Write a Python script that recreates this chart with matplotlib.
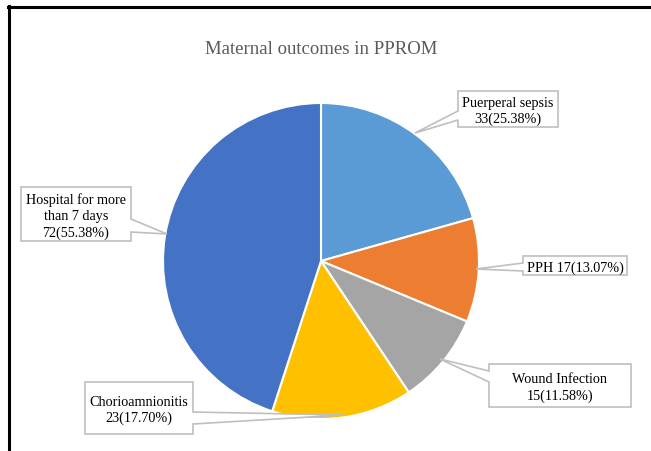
import matplotlib
matplotlib.use("Agg")
import matplotlib.pyplot as plt
from matplotlib.patches import Polygon
from matplotlib.lines import Line2D

# ---- data ----
categories = ["Puerperal sepsis", "PPH", "Wound Infection", "Chorioamnionitis",
              "Hospital for more\nthan 7 days"]
values = [33, 17, 15, 23, 72]
pct_labels = ["25.38%", "13.07%", "11.58%", "17.70%", "55.38%"]
separators = ["\n", " ", "\n", "\n", "\n"]
colors = ["#5B9BD5", "#ED7D31", "#A5A5A5", "#FFC000", "#4472C4"]
title = "Maternal outcomes in PPROM"

W, H = 651, 452
fig = plt.figure(figsize=(W / 100, H / 100), dpi=100)
ax = fig.add_axes([0, 0, 1, 1])

def Y(y):
    return H - y

cx, cy, r = 321, 262, 158
ax.pie(values, colors=colors, startangle=90, counterclock=False,
       center=(cx, Y(cy)), radius=r,
       wedgeprops=dict(edgecolor="white", linewidth=1.5))
ax.set_xlim(0, W)
ax.set_ylim(0, H)
ax.set_aspect("equal", adjustable="datalim")
ax.axis("off")

ax.text(321, Y(49), title, ha="center", va="center", fontsize=13.5,
        color="#595959", family="Liberation Serif")

# callout layout: box (x0, y0, x1, y1), side, pointer base (b1, b2), tip
layout = [
    ((458, 92, 558, 128), "left", (112, 121), (415, 134)),
    ((523, 257, 627, 276), "left", (264, 272), (476, 270)),
    ((489, 365, 631, 408), "left", (372, 383), (440, 360)),
    ((85, 383, 193, 435), "right", (413, 425), (343, 416)),
    ((21, 188, 131, 242), "right", (220, 233), (167, 235)),
]

for i, ((x0, y0, x1, y1), side, (b1, b2), (tx, ty)) in enumerate(layout):
    if side == "left":
        pts = [(x0, y0), (x1, y0), (x1, y1), (x0, y1), (x0, b2), (tx, ty), (x0, b1)]
    else:
        pts = [(x0, y0), (x1, y0), (x1, b1), (tx, ty), (x1, b2), (x1, y1), (x0, y1)]
    pts = [(px, Y(py)) for px, py in pts]
    ax.add_patch(Polygon(pts, closed=True, facecolor="white", edgecolor="#BFBFBF",
                         linewidth=1.2, zorder=5))
    txt = f"{categories[i]}{separators[i]}{values[i]}({pct_labels[i]})"
    ax.text((x0 + x1) / 2, Y((y0 + y1) / 2 + 1.5), txt, ha="center", va="center",
            fontsize=10.2, color="black", family="Liberation Serif",
            linespacing=1.3, zorder=6)

# black frame lines (top and left)
fig.add_artist(Line2D([8 / W, 1.0], [Y(7.5) / H, Y(7.5) / H], color="black", linewidth=2.2))
fig.add_artist(Line2D([9 / W, 9 / W], [0, Y(7) / H], color="black", linewidth=2.2))

fig.savefig("out.png", dpi=100)
